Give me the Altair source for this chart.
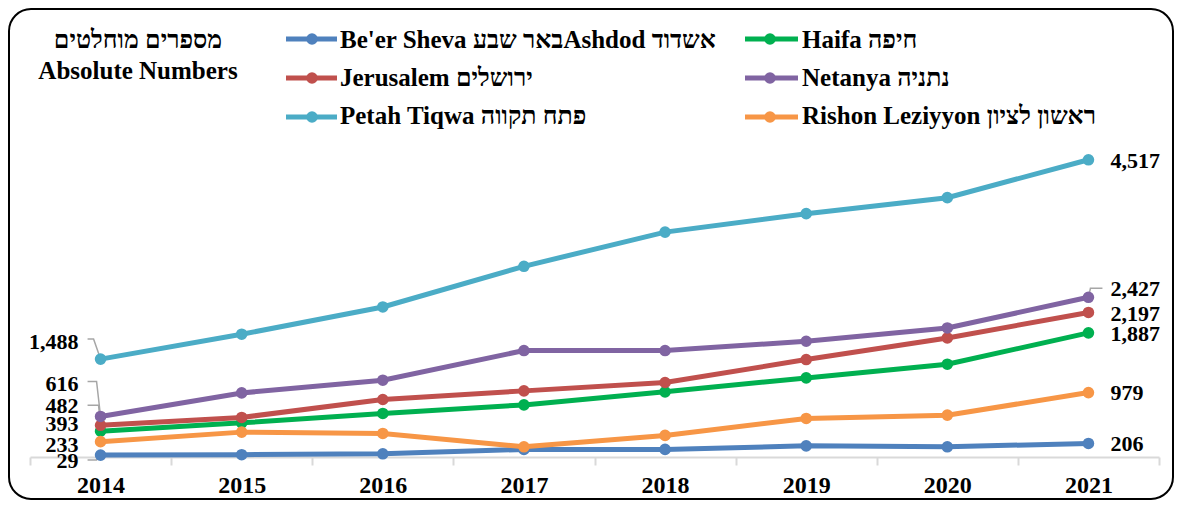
import altair as alt
import pandas as pd

years = ["2014", "2015", "2016", "2017", "2018", "2019", "2020", "2021"]
series = ["Be'er Sheva", "Haifa", "Jerusalem", "Netanya", "Petah Tiqwa", "Rishon Leziyyon"]
legend_labels = [
    "Be'er Sheva באר שבעAshdod  אשדוד",
    "Haifa חיפה",
    "Jerusalem ירושלים",
    "Netanya נתניה",
    "Petah Tiqwa פתח תקווה",
    "Rishon Leziyyon ראשון לציון",
]
colors = ["#4F81BD", "#00B050", "#C0504D", "#8064A2", "#4BACC6", "#F79646"]

beer_sheva = [29, 35, 49, 115, 115, 170, 155, 206]
haifa = [393, 519, 662, 792, 990, 1202, 1410, 1887]
jerusalem = [482, 601, 874, 1005, 1132, 1481, 1809, 2197]
netanya = [616, 974, 1167, 1618, 1618, 1759, 1961, 2427]
petah_tiqwa = [1488, 1866, 2280, 2898, 3418, 3698, 3941, 4517]
rishon = [233, 378, 358, 155, 328, 586, 636, 979]

title_lines = ["מספרים מוחלטים", "Absolute Numbers"]

# label placement (pixel offsets, style only)
first_dy = {"Be'er Sheva": 6, "Haifa": -7, "Jerusalem": -19, "Netanya": -32,
            "Petah Tiqwa": -17, "Rishon Leziyyon": 3}
last_dy = {"Be'er Sheva": 1, "Haifa": 1, "Jerusalem": 2, "Netanya": -8,
           "Petah Tiqwa": 1, "Rishon Leziyyon": 0}
leaders = [
    ("Petah Tiqwa", "2014", [(-13, -20), (-7, -20), (0, 0)]),
    ("Netanya", "2014", [(-13, -35), (-4, -35), (0, 0)]),
    ("Jerusalem", "2014", [(-13, -20), (-2, -20), (0, 0)]),
    ("Be'er Sheva", "2014", [(-13, 5), (-4, 5), (0, 0)]),
    ("Netanya", "2021", [(0, 0), (2, -9), (14, -9)]),
]

FONT = "Liberation Serif"
MIXED_FONT = "Liberation Serif, DejaVu Sans"
WIDTH = 1129
HEIGHT = 329
YMAX = 5000
PX = YMAX / HEIGHT  # data units per pixel
HALF_BAND = WIDTH / len(years) / 2

all_vals = [beer_sheva, haifa, jerusalem, netanya, petah_tiqwa, rishon]
rows = []
for s, vals in zip(series, all_vals):
    for yr, v in zip(years, vals):
        rows.append({"series": s, "year": yr, "value": v})
df = pd.DataFrame(rows)
lookup = {(r["series"], r["year"]): r["value"] for r in rows}

lab_rows = []
for s in series:
    lab_rows.append({"series": s, "year": "2014", "value": lookup[(s, "2014")], "dy": first_dy[s], "side": "first"})
    lab_rows.append({"series": s, "year": "2021", "value": lookup[(s, "2021")], "dy": last_dy[s], "side": "last"})
lab_df = pd.DataFrame(lab_rows)

ld_rows = []
for i, (s, yr, pts) in enumerate(leaders):
    for j, (ox, oy) in enumerate(pts):
        ld_rows.append({"lid": i, "ord": j, "year": yr, "value": lookup[(s, yr)], "ox": ox, "oy": oy})
ld_df = pd.DataFrame(ld_rows)

x_scale = alt.Scale(type="band", domain=years, paddingInner=0, paddingOuter=0)
x_enc = alt.X(
    "year:N", sort=years, title=None, scale=x_scale,
    axis=alt.Axis(tickBand="extent", domainColor="#D9D9D9", domainWidth=2,
                  tickColor="#D9D9D9", tickWidth=2, tickSize=8,
                  labelFont=FONT, labelFontWeight="bold", labelFontSize=24,
                  labelColor="black", labelPadding=8, labelAngle=0, grid=False),
)
y_scale = alt.Scale(domain=[0, YMAX], nice=False)
y_enc = alt.Y("value:Q", scale=y_scale, axis=None)

one = pd.DataFrame({"k": [0]})
layers = []

border = alt.Chart(one).mark_rect(
    fill="white", fillOpacity=0, stroke="black", strokeWidth=2, cornerRadius=22
).encode(x=alt.value(-21), x2=alt.value(1143), y=alt.value(-119), y2=alt.value(371))
layers.append(border)

leader_layer = alt.Chart(ld_df).transform_calculate(
    yv=f"datum.value - datum.oy * {PX}",
    oxb=f"datum.ox + {HALF_BAND}",
).mark_line(color="#A6A6A6", strokeWidth=1.5).encode(
    x=x_enc,
    y=alt.Y("yv:Q", scale=y_scale, axis=None),
    xOffset=alt.XOffset("oxb:Q", scale=None),
    detail="lid:N", order="ord:Q",
)
layers.append(leader_layer)

base = alt.Chart(df)
for s, c in zip(series, colors):
    sub = base.transform_filter(alt.datum.series == s)
    layers.append(sub.mark_line(color=c, strokeWidth=5).encode(x=x_enc, y=y_enc))
    layers.append(sub.mark_circle(color=c, size=135, opacity=1).encode(x=x_enc, y=y_enc))

lab_base = alt.Chart(lab_df).transform_calculate(ly=f"datum.value - datum.dy * {PX}")
for side, align, dx in [("first", "right", -22), ("last", "left", 22)]:
    layers.append(
        lab_base.transform_filter(alt.datum.side == side).mark_text(
            align=align, baseline="middle", dx=dx, font=FONT, fontWeight="bold",
            fontSize=22, color="black"
        ).encode(x=x_enc, y=alt.Y("ly:Q", scale=y_scale, axis=None),
                 text=alt.Text("value:Q", format=","))
    )

# title
for txt, ty in zip(title_lines, [-80, -49]):
    layers.append(
        alt.Chart(one).mark_text(align="center", baseline="alphabetic", font=MIXED_FONT,
                                 fontWeight="bold", fontSize=25, color="black", text=txt)
        .encode(x=alt.value(108), y=alt.value(ty))
    )

# legend (layout)
col_line = [(256, 307), (715, 768)]
col_circ = [282, 740]
col_text = [310, 772]
row_sym = [-89, -50, -11]
row_txt = [-80, -42, -4]
for i, (lab, c) in enumerate(zip(legend_labels, colors)):
    col, row = i % 2, i // 2
    layers.append(
        alt.Chart(one).mark_rule(color=c, strokeWidth=5).encode(
            x=alt.value(col_line[col][0]), x2=alt.value(col_line[col][1]), y=alt.value(row_sym[row]))
    )
    layers.append(
        alt.Chart(one).mark_circle(color=c, size=135, opacity=1).encode(
            x=alt.value(col_circ[col]), y=alt.value(row_sym[row]))
    )
    layers.append(
        alt.Chart(one).mark_text(align="left", baseline="alphabetic", font=MIXED_FONT,
                                 fontWeight="bold", fontSize=25, color="black", text=lab)
        .encode(x=alt.value(col_text[col]), y=alt.value(row_txt[row]))
    )

chart = alt.layer(*layers).properties(
    width=WIDTH, height=HEIGHT,
    autosize=alt.AutoSizeParams(type="none"),
    padding={"left": 22, "top": 120, "right": 15, "bottom": 44},
    background="white",
).configure_view(stroke=None)

chart.save("out.html", embed_options={"renderer": "svg", "actions": False})
